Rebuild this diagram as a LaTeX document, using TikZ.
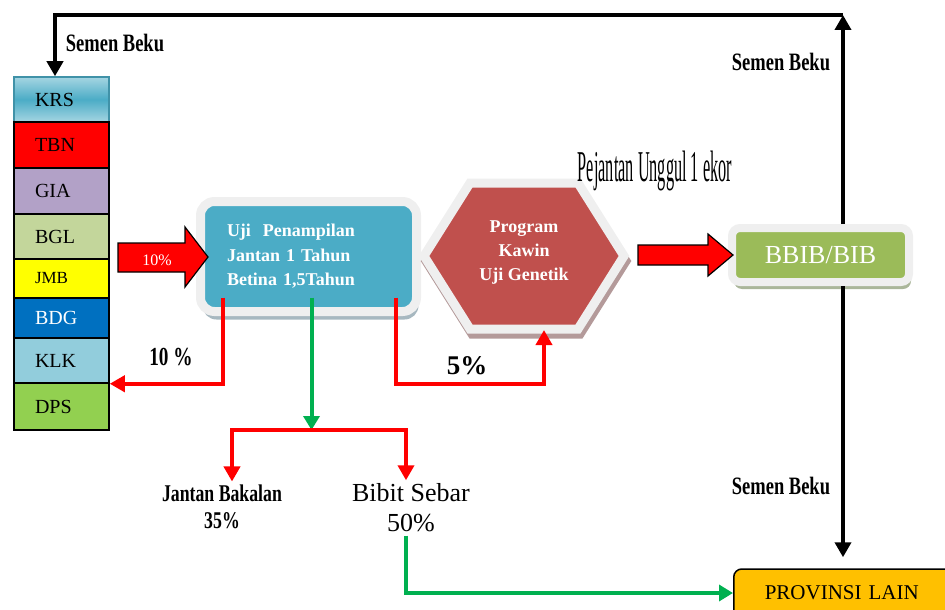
\documentclass[tikz,border=0pt]{standalone}
\usepackage{fontspec}
\setmainfont{Liberation Serif}
\newfontfamily\narrowfont[FakeStretch=0.74]{Liberation Serif}
\newfontfamily\tallfont[FakeStretch=0.37]{Liberation Serif}
\usetikzlibrary{arrows.meta,shadows,calc}

\definecolor{krsblue}{HTML}{4BACC6}
\definecolor{krslight}{HTML}{A5D5E2}
\definecolor{tbnred}{HTML}{FF0000}
\definecolor{giapurple}{HTML}{B2A1C7}
\definecolor{bglgreen}{HTML}{C3D69B}
\definecolor{jmbyellow}{HTML}{FFFF00}
\definecolor{bdgblue}{HTML}{0070C0}
\definecolor{klkblue}{HTML}{92CDDC}
\definecolor{dpsgreen}{HTML}{92D050}
\definecolor{ujiblue}{HTML}{4BACC6}
\definecolor{ujishade}{HTML}{A7B8C0}
\definecolor{progred}{HTML}{C0504D}
\definecolor{progshade}{HTML}{B49A9A}
\definecolor{bibgreen}{HTML}{9BBB59}
\definecolor{bibshade}{HTML}{AAB69A}
\definecolor{provorange}{HTML}{FFC000}
\definecolor{glow}{HTML}{EFEFEF}
\definecolor{flowgreen}{HTML}{00B050}

\begin{document}
\begin{tikzpicture}[x=1pt,y=-1pt,
	stackbox/.style={draw=black, line width=1.5pt, minimum width=95pt, text width=53pt, align=left, inner xsep=0pt, inner ysep=0pt},
	redarrow/.style={draw=red, line width=4pt, -{Triangle[length=15pt,width=16pt]}},
	greenarrow/.style={draw=flowgreen, line width=4pt, -{Triangle[length=14pt,width=16pt]}},
	blackarrow/.style={draw=black, line width=4pt, -{Triangle[length=15pt,width=16pt]}},
	blockarrow/.style={fill=red, draw=black, line width=1.2pt},
	bekulabel/.style={font=\narrowfont\bfseries\fontsize{25}{28}\selectfont},
	boldlabel/.style={font=\narrowfont\bfseries\fontsize{24}{27}\selectfont, align=center},
	]
	\useasboundingbox (0,0) rectangle (945,610);

	% kotak daerah
	\node[stackbox, top color=krslight, bottom color=krslight, middle color=krsblue, draw=krsblue!85!black, minimum height=45pt, font=\fontsize{20}{20}\selectfont] (KRS) at (61.5,99.5) {KRS};
	\foreach \lbl/\col/\txt/\ya/\yb/\fs in {TBN/tbnred/black/122/168/20, GIA/giapurple/black/168/214/20, BGL/bglgreen/black/214/259/20, JMB/jmbyellow/black/259/298/17, BDG/bdgblue/white/298/338/20, KLK/klkblue/black/338/383/20, DPS/dpsgreen/black/383/430/20}
	{
		\node[stackbox, fill=\col, text=\txt, minimum height={\yb-\ya}, font=\fontsize{\fs}{\fs}\selectfont] (\lbl) at (61.5,{(\ya+\yb)/2}) {\lbl};
	}

	\coordinate (topright) at (843,15);
	\coordinate (topleft) at (55,15);
	\draw[blackarrow] (topright) -- (topleft) -- (topleft |- KRS.north);
	\node[bekulabel] (beku1) at (115,43) {Semen Beku};

	% uji penampilan
	\node[fill=ujiblue, draw=glow, line width=9pt, rounded corners=14pt, minimum width=216pt, minimum height=110pt, text width=163pt, align=left, inner sep=0pt, outer sep=4.5pt, text=white, font=\bfseries\fontsize{18}{24.5}\selectfont, drop shadow={shadow xshift=2pt, shadow yshift=-8pt, fill=ujishade, opacity=1}] (uji) at (308.5,256.5) {Uji\ \ Penampilan\\ Jantan 1 Tahun\\ Betina 1,5Tahun};

	\draw[blockarrow] (118,243) -- (185,243) -- (185,227) -- (208,257) -- (185,287) -- (185,272) -- (118,272) -- cycle;
	\node[text=white, font=\fontsize{16}{16}\selectfont] (masuk) at (157,260) {10\%};

	% program kawin
	\draw[fill=progshade, draw=progshade, line width=9pt] (426,261) -- (472,188) -- (580,188) -- (626,261) -- (580,334) -- (472,334) -- cycle;
	\draw[fill=progred, draw=glow, line width=9pt] (424,256) -- (470,183) -- (578,183) -- (624,256) -- (578,329) -- (470,329) -- cycle;
	\node[text=white, align=center, font=\bfseries\fontsize{18}{24}\selectfont] (prog) at (524,253) {Program\\Kawin\\Uji Genetik};
	\coordinate (hexbot) at (544,330);

	\node[font=\tallfont\fontsize{44}{44}\selectfont] (pejantan) at (655,171) {Pejantan Unggul 1 ekor};

	% bbib
	\node[fill=bibgreen, draw=glow, line width=8pt, rounded corners=8pt, minimum width=177pt, minimum height=54pt, outer sep=4pt, text=white, font=\fontsize{26}{26}\selectfont, drop shadow={shadow xshift=2pt, shadow yshift=-7pt, fill=bibshade, opacity=1}] (bbib) at (820.5,255) {BBIB/BIB};
	\draw[blockarrow] (638,245) -- (708,245) -- (708,234) -- (733,255) -- (708,276) -- (708,265) -- (638,265) -- cycle;

	\node[draw=black, line width=1.5pt, fill=provorange, rounded corners=8pt, anchor=west, minimum width=240pt, minimum height=48pt, text width=178pt, align=left, font=\fontsize{21}{21}\selectfont] (prov) at (733,593) {PROVINSI LAIN};

	\draw[blackarrow] (bbib.north -| topright) -- (topright);
	\draw[blackarrow, shorten >=11pt] (bbib.south -| topright) -- (prov.north -| topright);
	\node[bekulabel] (beku2) at (781,62) {Semen Beku};
	\node[bekulabel] (beku3) at (781,486) {Semen Beku};

	% hasil seleksi
	\node[boldlabel] (jantan) at (222,507) {Jantan Bakalan\\35\%};
	\node[font=\fontsize{26}{30}\selectfont, align=center] (bibit) at (411,508) {Bibit Sebar\\50\%};
	\coordinate (split) at (311.5,430);

	\draw[redarrow] ($(uji.center)+(-86,41)$) |- (KLK.south east);
	\draw[redarrow] ($(uji.center)+(87,41)$) -- ++(0,86) -| (hexbot);
	\draw[greenarrow] ($(uji.center)+(3,41)$) -- (split);
	\draw[redarrow] (split) -| ($(jantan.north)+(10,0)$);
	\draw[redarrow] (split) -| ($(bibit.north)+(-5,0)$);
	\draw[greenarrow] ($(bibit.south)+(-5,0)$) |- (prov.west);

	\node[font=\narrowfont\bfseries\fontsize{26}{26}\selectfont] (kiri) at (171,357) {10 \%};
	\node[font=\bfseries\fontsize{27}{27}\selectfont] (kanan) at (467,366) {5\%};
\end{tikzpicture}
\end{document}
